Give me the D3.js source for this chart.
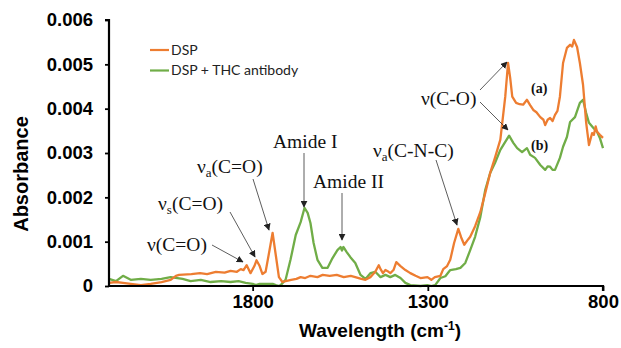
<!DOCTYPE html>
<html lang="en">
<head>
<meta charset="utf-8">
<title>FTIR spectra</title>
<style>
  body { margin: 0; background: #fff; }
  svg { display: block; }
</style>
</head>
<body>
<svg id="chart"></svg>
<script src="https://d3js.org/d3.v7.min.js"></script>
<script>

// DSP (orange)
const dspWave = [2210, 2190, 2170, 2148, 2119, 2091, 2060, 2034, 2019, 2010, 1975, 1950, 1930, 1905, 1880, 1863,
  1845, 1834, 1826, 1817, 1806, 1795, 1789, 1780, 1772, 1763, 1752, 1743, 1734, 1725, 1715, 1706, 1690, 1675,
  1663, 1650, 1635, 1615, 1600, 1580, 1560, 1540, 1520, 1507, 1490, 1478, 1464, 1450, 1440, 1435, 1428, 1421,
  1412, 1407, 1398, 1390, 1378, 1364, 1350, 1335, 1321, 1301, 1290, 1280, 1264, 1256, 1245, 1236, 1225, 1213,
  1205, 1196, 1185, 1179, 1165, 1150, 1136, 1122, 1108, 1093, 1079, 1071, 1065, 1059, 1048, 1038, 1028, 1017,
  1008, 999, 990, 979, 970, 965, 958, 951, 944, 937, 930, 923, 914, 903, 894, 888, 883, 874, 866, 857, 848, 840,
  831, 826, 821, 817, 809, 800];
const dspAbs = [0.00007, 0.00009, 0.00007, 0.00005, 0.00002, 0.00005, 0.00009, 0.00014, 0.00023, 0.00025, 0.00027,
  0.00029, 0.00027, 0.00032, 0.00030, 0.00034, 0.00032, 0.00038, 0.00036, 0.00047, 0.00029, 0.00045, 0.00058,
  0.00045, 0.00027, 0.00032, 0.00080, 0.00120, 0.00070, 0.00020, 0.00009, 0.00011, 0.00014, 0.00016, 0.00020,
  0.00018, 0.00023, 0.00020, 0.00025, 0.00023, 0.00025, 0.00020, 0.00023, 0.00020, 0.00016, 0.00014, 0.00020,
  0.00032, 0.00047, 0.00038, 0.00029, 0.00036, 0.00032, 0.00029, 0.00036, 0.00054, 0.00045, 0.00036, 0.00029,
  0.00023, 0.00018, 0.00020, 0.00014, 0.00020, 0.00023, 0.00038, 0.00045, 0.00059, 0.00097, 0.00129, 0.00110,
  0.00093, 0.00105, 0.00111, 0.00135, 0.00167, 0.00210, 0.00255, 0.00290, 0.00330, 0.00427, 0.00503, 0.00470,
  0.00427, 0.00413, 0.00410, 0.00409, 0.00420, 0.00408, 0.00397, 0.00392, 0.00381, 0.00375, 0.00363, 0.00375,
  0.00379, 0.00372, 0.00386, 0.00395, 0.00427, 0.00503, 0.00537, 0.00544, 0.00540, 0.00555, 0.00539, 0.00503,
  0.00454, 0.00368, 0.00318, 0.00345, 0.00341, 0.00360, 0.00348, 0.00341, 0.00334];

// DSP + THC antibody (green)
const thcWave = [2210, 2190, 2170, 2148, 2119, 2091, 2060, 2034, 2000, 1977, 1948, 1920, 1890, 1863, 1840, 1820,
  1800, 1791, 1780, 1763, 1743, 1734, 1725, 1720, 1706, 1692, 1677, 1663, 1652, 1643, 1635, 1626, 1615, 1601,
  1586, 1572, 1558, 1549, 1545, 1541, 1532, 1521, 1507, 1492, 1478, 1464, 1450, 1435, 1421, 1407, 1393, 1378,
  1364, 1350, 1321, 1301, 1290, 1279, 1264, 1250, 1236, 1220, 1207, 1193, 1179, 1165, 1150, 1136, 1122, 1108,
  1093, 1079, 1068, 1056, 1045, 1031, 1017, 1008, 994, 979, 965, 958, 951, 944, 937, 923, 914, 903, 894, 880,
  866, 857, 848, 840, 828, 817, 809, 800];
const thcAbs = [0.00016, 0.00011, 0.00023, 0.00014, 0.00016, 0.00014, 0.00016, 0.00020, 0.00016, 0.00011, 0.00014,
  0.00009, 0.00011, 0.00009, 0.00011, 0.00007, 0.00005, 0.00002, 0.00005, 0.00005, 0.00005, 0.00002, 0.00000,
  0.00002, 0.00014, 0.00059, 0.00115, 0.00144, 0.00176, 0.00165, 0.00142, 0.00097, 0.00059, 0.00041, 0.00041,
  0.00063, 0.00081, 0.00088, 0.00080, 0.00088, 0.00077, 0.00065, 0.00052, 0.00025, 0.00016, 0.00029, 0.00032,
  0.00020, 0.00025, 0.00020, 0.00025, 0.00018, 0.00007, 0.00002, 0.00000, 0.00002, 0.00000, 0.00002, 0.00018,
  0.00022, 0.00036, 0.00038, 0.00041, 0.00052, 0.00081, 0.00111, 0.00156, 0.00217, 0.00255, 0.00278, 0.00307,
  0.00325, 0.00339, 0.00323, 0.00311, 0.00302, 0.00311, 0.00296, 0.00289, 0.00273, 0.00262, 0.00270, 0.00269,
  0.00262, 0.00262, 0.00289, 0.00314, 0.00336, 0.00370, 0.00381, 0.00413, 0.00420, 0.00390, 0.00368, 0.00357,
  0.00348, 0.00334, 0.00311];

const seriesNames = ['DSP', 'DSP + THC antibody'];
const seriesColors = ['#ED7D31', '#70AD47'];
const xTicks = [1800, 1300, 800];
const yTicks = [0, 0.001, 0.002, 0.003, 0.004, 0.005, 0.006];

const width = 621, height = 348;
const svg = d3.select('#chart').attr('width', width).attr('height', height);

const x = d3.scaleLinear().domain([2210, 800]).range([109, 603]);
const y = d3.scaleLinear().domain([0, 0.006]).range([286, 20]);

const toPts = (w, a) => w.map((d, i) => [d, a[i]]);
const series = [toPts(dspWave, dspAbs), toPts(thcWave, thcAbs)];

const line = d3.line().x(d => x(d[0])).y(d => y(d[1]));

// green first so orange sits on top
svg.selectAll('path.spec')
  .data([1, 0])
  .enter()
  .append('path')
  .attr('class', 'spec')
  .attr('d', i => line(series[i]))
  .attr('fill', 'none')
  .attr('stroke', i => seriesColors[i])
  .attr('stroke-width', 2.3)
  .attr('stroke-linejoin', 'round');

// axes
const yAxis = svg.append('g')
  .attr('transform', 'translate(109,0)')
  .call(d3.axisLeft(y).tickValues(yTicks).tickSize(4).tickPadding(12)
    .tickFormat(d => d === 0 ? '0' : d3.format('.3f')(d)));
const xAxis = svg.append('g')
  .attr('transform', 'translate(0,286)')
  .call(d3.axisBottom(x).tickValues(xTicks).tickSize(5).tickPadding(4).tickFormat(d3.format('d')));

[yAxis, xAxis].forEach(a => {
  a.select('.domain').attr('stroke', '#000').attr('stroke-width', 2.2);
  a.selectAll('.tick line').attr('stroke', '#000').attr('stroke-width', 1.8);
  a.selectAll('text')
    .attr('fill', '#000')
    .style('font-family', 'Liberation Sans, Arial, sans-serif')
    .style('font-weight', 'bold')
    .style('font-size', '18.5px');
});
yAxis.select('.domain').attr('d', 'M-4,20H0V286');
xAxis.select('.domain').attr('d', 'M109,0H603V5');

// axis titles
svg.append('text')
  .attr('x', 380).attr('y', 337)
  .attr('text-anchor', 'middle')
  .style('font-family', 'Liberation Sans, Arial, sans-serif')
  .style('font-weight', 'bold')
  .style('font-size', '19px')
  .html('Wavelength (cm<tspan dy="-7" font-size="12px">-1</tspan><tspan dy="7">)</tspan>');

svg.append('text')
  .attr('transform', 'translate(28,174) rotate(-90)')
  .attr('text-anchor', 'middle')
  .style('font-family', 'Liberation Sans, Arial, sans-serif')
  .style('font-weight', 'bold')
  .style('font-size', '20px')
  .text('Absorbance');

// legend
const legend = svg.append('g')
  .selectAll('g')
  .data(seriesNames)
  .enter()
  .append('g')
  .attr('transform', (d, i) => 'translate(150,' + (50 + i * 20.5) + ')');
legend.append('line')
  .attr('x1', 0).attr('x2', 19)
  .attr('stroke', (d, i) => seriesColors[i])
  .attr('stroke-width', 2.2);
legend.append('text')
  .attr('x', 21).attr('dy', '0.35em')
  .style('font-family', 'Lato, sans-serif')
  .style('font-size', '14px')
  .attr('fill', '#222')
  .text(d => d);

// annotations
svg.append('defs').append('marker')
  .attr('id', 'arr')
  .attr('viewBox', '0 0 10 10')
  .attr('refX', 9).attr('refY', 5)
  .attr('markerWidth', 7).attr('markerHeight', 7)
  .attr('markerUnits', 'userSpaceOnUse')
  .attr('orient', 'auto')
  .append('path')
  .attr('d', 'M0,0L10,5L0,10z')
  .attr('fill', '#222');

const labels = [
  { x: 147, y: 251, main: 'ν', sub: '', rest: '(C=O)' },
  { x: 158, y: 210, main: 'ν', sub: 's', rest: '(C=O)' },
  { x: 197, y: 173, main: 'ν', sub: 'a', rest: '(C=O)' },
  { x: 273, y: 148, main: 'Amide I', sub: '', rest: '' },
  { x: 313, y: 188, main: 'Amide II', sub: '', rest: '' },
  { x: 373, y: 157, main: 'ν', sub: 'a', rest: '(C-N-C)' },
  { x: 421, y: 105, main: 'ν', sub: '', rest: '(C-O)' }
];
const arrows = [
  [212, 245, 243, 262],
  [230, 212, 255, 257],
  [253, 179, 269, 230],
  [304, 153, 304, 207],
  [342, 193, 342, 240],
  [436, 160, 457, 225],
  [480, 90, 507, 62],
  [480, 102, 508, 130]
];

const ann = svg.append('g')
  .style('font-family', 'Liberation Serif, Times New Roman, serif')
  .style('font-size', '19.5px')
  .attr('fill', '#111');
labels.forEach(l => {
  const t = ann.append('text').attr('x', l.x).attr('y', l.y);
  t.append('tspan').text(l.main);
  if (l.sub) {
    t.append('tspan').attr('dy', 4).style('font-size', '13px').text(l.sub);
    t.append('tspan').attr('dy', -4).text(l.rest);
  } else if (l.rest) {
    t.append('tspan').text(l.rest);
  }
});

svg.append('g')
  .selectAll('line')
  .data(arrows)
  .enter()
  .append('line')
  .attr('x1', d => d[0]).attr('y1', d => d[1])
  .attr('x2', d => d[2]).attr('y2', d => d[3])
  .attr('stroke', '#333')
  .attr('stroke-width', 0.8)
  .attr('marker-end', 'url(#arr)');

ann.selectAll('text.tag')
  .data([['(a)', 531, 93], ['(b)', 531, 150]])
  .enter()
  .append('text')
  .attr('class', 'tag')
  .attr('x', d => d[1]).attr('y', d => d[2])
  .style('font-weight', 'bold')
  .style('font-size', '14px')
  .text(d => d[0]);

</script>
</body>
</html>
